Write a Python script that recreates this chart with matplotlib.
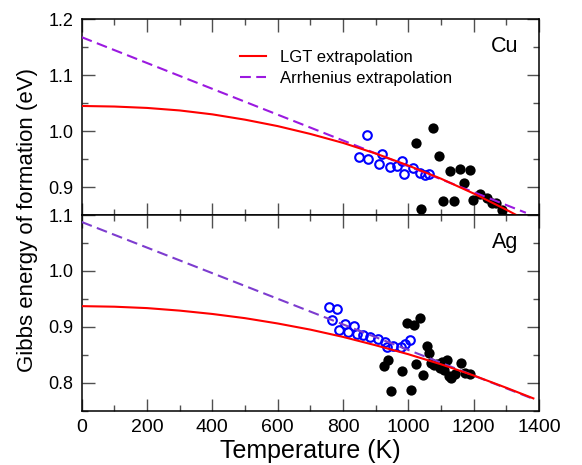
import numpy as np
import matplotlib
matplotlib.use("Agg")
import matplotlib.pyplot as plt
from matplotlib.ticker import MultipleLocator

plt.rcParams["font.family"] = ["Liberation Sans", "DejaVu Sans"]

# --- data ------------------------------------------------------------------
# extrapolation curves (T in K, G in eV)
cu_lgt_t = [0, 100, 200, 300, 400, 500, 600, 700, 800, 900, 1000, 1100, 1200, 1300, 1360]
cu_lgt = [1.045, 1.044, 1.0415, 1.037, 1.030, 1.0205, 1.009, 0.995, 0.979, 0.960,
          0.9385, 0.915, 0.8885, 0.8595, 0.841]
cu_arr_t = [0, 1360]
cu_arr = [1.168, 0.854]

ag_lgt_t = [0, 100, 200, 300, 400, 500, 600, 700, 800, 900, 1000, 1100, 1200, 1300, 1383]
ag_lgt = [0.937, 0.936, 0.9335, 0.929, 0.923, 0.9155, 0.906, 0.895, 0.882, 0.867,
          0.851, 0.833, 0.813, 0.791, 0.772]
ag_arr_t = [0, 1383]
ag_arr = [1.0875, 0.771]

# open symbols (blue)
cu_open_t = [850, 874, 877, 910, 918, 944, 964, 981, 987, 1013, 1036, 1051, 1064]
cu_open = [0.9535, 0.993, 0.9505, 0.9417, 0.9594, 0.9358, 0.9369, 0.9465, 0.924,
           0.934, 0.9252, 0.9222, 0.9234]
ag_open_t = [758, 783, 765, 789, 806, 814, 834, 844, 862, 882, 908, 928, 934, 954,
             979, 990, 1005]
ag_open = [0.936, 0.932, 0.913, 0.895, 0.905, 0.891, 0.902, 0.888, 0.885, 0.881,
           0.878, 0.873, 0.864, 0.866, 0.864, 0.869, 0.876]

# filled symbols (black)
cu_fill_t = [1025, 1038, 1076, 1095, 1107, 1127, 1141, 1158, 1170, 1189, 1199, 1221,
             1240, 1255, 1270, 1286]
cu_fill = [0.979, 0.860, 1.005, 0.956, 0.875, 0.928, 0.875, 0.933, 0.908, 0.931,
           0.877, 0.887, 0.880, 0.871, 0.872, 0.859]
ag_fill_t = [926, 937, 947, 980, 995, 1008, 1017, 1025, 1036, 1044, 1056, 1064, 1071,
             1080, 1087, 1097, 1102, 1110, 1119, 1125, 1132, 1143, 1160, 1175, 1190]
ag_fill = [0.830, 0.840, 0.786, 0.821, 0.907, 0.787, 0.903, 0.833, 0.916, 0.813,
           0.866, 0.853, 0.835, 0.831, 0.833, 0.826, 0.837, 0.822, 0.840, 0.812,
           0.808, 0.815, 0.836, 0.818, 0.816]

RED = "#ff0000"
BLUE = "#0000ff"
PURPLE_CU = "#9b19e0"
PURPLE_AG = "#7d3ccf"
DASH = (0, (5.2, 2.6))


def style_panel(ax, ylim, yticks):
    ax.set_xlim(0, 1400)
    ax.set_ylim(*ylim)
    ax.set_yticks(yticks)
    ax.xaxis.set_major_locator(MultipleLocator(200))
    ax.xaxis.set_minor_locator(MultipleLocator(100))
    ax.yaxis.set_minor_locator(MultipleLocator(0.05))
    ax.tick_params(which="both", direction="in", top=True, right=True,
                   color="#505050", width=1.0, labelsize=13)
    ax.tick_params(which="major", length=9)
    ax.tick_params(which="minor", length=4.5)
    ax.tick_params(axis="y", pad=6)
    ax.tick_params(axis="x", pad=6, labelsize=14)
    for sp in ax.spines.values():
        sp.set_linewidth(1.1)


fig = plt.figure(figsize=(5.82, 4.65), dpi=100)
ax1 = fig.add_axes([0.1404, 0.5376, 0.7856, 0.4209])
ax2 = fig.add_axes([0.1404, 0.1168, 0.7856, 0.4208])

# Cu panel
ax1.plot(cu_open_t, cu_open, "o", ms=6.2, mfc="none", mec=BLUE, mew=1.5, zorder=2)
ax1.plot(cu_fill_t, cu_fill, "o", ms=7.4, mfc="black", mec="black", mew=0, zorder=2)
ax1.plot(cu_arr_t, cu_arr, color=PURPLE_CU, lw=1.5, linestyle=DASH, zorder=3,
         label="Arrhenius extrapolation")
ax1.plot(cu_lgt_t, cu_lgt, color=RED, lw=1.5, zorder=4, label="LGT extrapolation")
style_panel(ax1, (0.85, 1.2), [0.9, 1.0, 1.1, 1.2])
ax1.tick_params(axis="x", labelbottom=False)
ax1.set_yticklabels(["0.9", "1.0", "1.1", "1.2"])
ax1.text(0.955, 0.86, "Cu", transform=ax1.transAxes, ha="right", va="center",
         fontsize=15.5)
handles, labels = ax1.get_legend_handles_labels()
ax1.legend(handles[::-1], labels[::-1], loc="center left",
           bbox_to_anchor=(0.32, 0.752), frameon=False, fontsize=12,
           handlelength=1.6, handletextpad=0.8, labelspacing=0.35,
           borderpad=0.2)

# Ag panel
ax2.plot(ag_open_t, ag_open, "o", ms=6.2, mfc="none", mec=BLUE, mew=1.5, zorder=2)
ax2.plot(ag_fill_t, ag_fill, "o", ms=7.4, mfc="black", mec="black", mew=0, zorder=2)
ax2.plot(ag_arr_t, ag_arr, color=PURPLE_AG, lw=1.5, linestyle=DASH, zorder=3)
ax2.plot(ag_lgt_t, ag_lgt, color=RED, lw=1.5, zorder=4)
style_panel(ax2, (0.75, 1.1), [0.8, 0.9, 1.0, 1.1])
ax2.set_yticklabels(["0.8", "0.9", "1.0", "1.1"])
ax2.text(0.955, 0.86, "Ag", transform=ax2.transAxes, ha="right", va="center",
         fontsize=15.5)
ax2.set_xlabel("Temperature (K)", fontsize=18, labelpad=2)

fig.text(0.047, 0.527, "Gibbs energy of formation (eV)", rotation=90,
         ha="center", va="center", fontsize=16)

fig.savefig("out.png", dpi=100)
